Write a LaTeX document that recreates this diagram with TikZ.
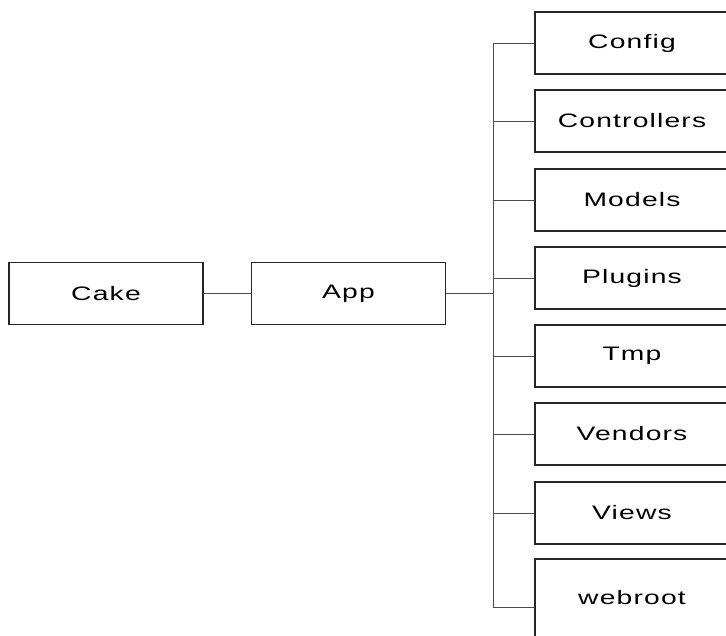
\documentclass[tikz,border=0pt]{standalone}
\usepackage{fontspec}
\setmainfont[FakeStretch=1.45,LetterSpace=6]{Liberation Sans}
\usetikzlibrary{positioning}

\begin{document}
\begin{tikzpicture}[x=1pt,y=-1pt,
  dir/.style={draw=black!85,line width=1.1pt,minimum width=194pt,minimum height=62pt,inner sep=0pt,
    font=\fontsize{19.5}{22}\selectfont},
  link/.style={line width=1pt,black!70}]
\clip (0,0) rectangle (726,635);
\draw 	(106,293.5) node[dir](cake){Cake}   (348.5,293.5) node[dir](app){App};
\draw 	(632,43) node[dir](config){Config}   (632,121) node[dir](ctrl){Controllers}
		(632,200) node[dir](models){Models}   (632,278) node[dir](plugins){Plugins}
		(632,356) node[dir](tmp){Tmp}   (632,434) node[dir](vendors){Vendors}
		(632,513) node[dir](views){Views}   (632,598) node[dir,minimum height=78pt](webroot){webroot};
% trunk points
\coordinate (t1) at (493,43);  \coordinate (t2) at (493,121);
\coordinate (t3) at (493,200); \coordinate (t4) at (493,278);
\coordinate (t5) at (493,356); \coordinate (t6) at (493,434);
\coordinate (t7) at (493,513); \coordinate (t8) at (493,607);
\path[link]
    (cake) edge (app)
    (app) edge (app -| t1)
    (t1) edge (t8)
    (t1) edge (config)
    (t2) edge (ctrl)
    (t3) edge (models)
    (t4) edge (plugins)
    (t5) edge (tmp)
    (t6) edge (vendors)
    (t7) edge (views)
    (t8) edge (t8 -| webroot.west);
\end{tikzpicture}
\end{document}
